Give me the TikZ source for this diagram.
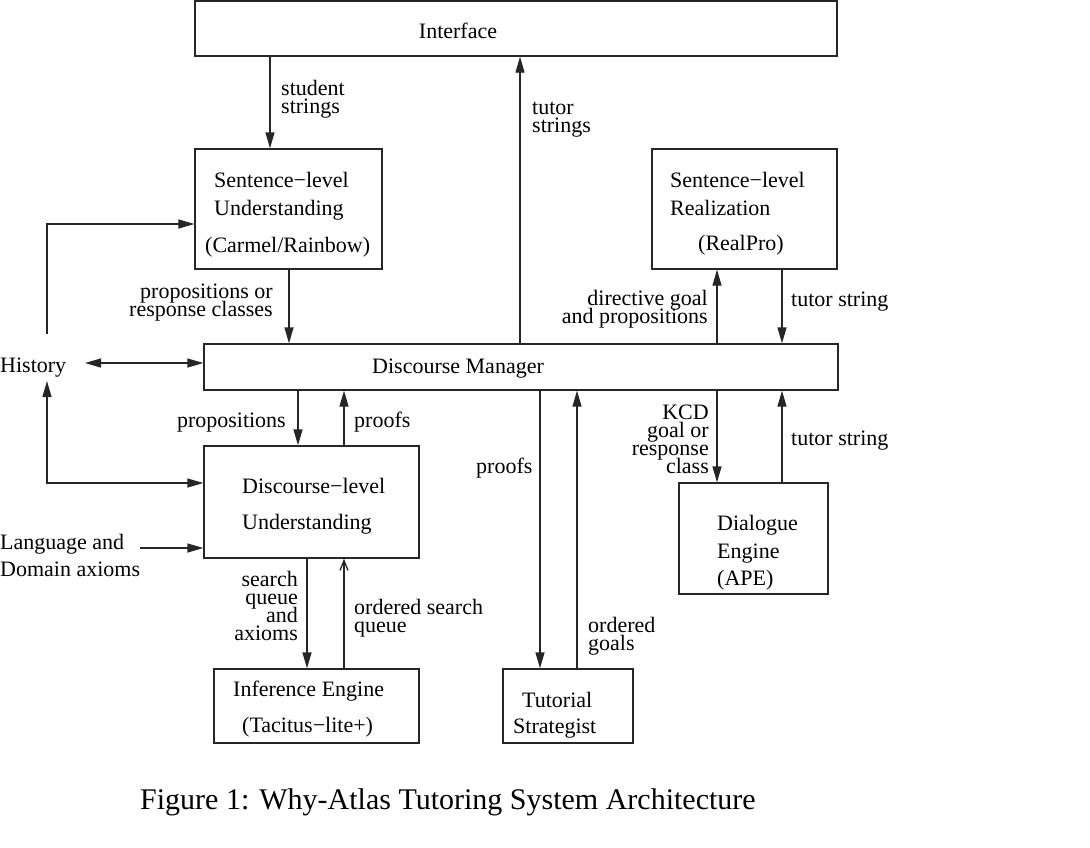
\documentclass[tikz,border=0pt]{standalone}
\usepackage{fontspec}
\setmainfont{Liberation Serif}
\usetikzlibrary{arrows.meta}
\newcommand\figfont{\fontsize{22}{18}\selectfont\lineskiplimit=-100pt\relax}
\newcommand\capfont{\fontsize{30}{30}\selectfont}
\begin{document}
\begin{tikzpicture}[x=1pt,y=-1pt,
  box/.style={draw=black!85, line width=1.3pt, inner sep=0pt},
  tl/.style={inner sep=0pt, anchor=base west, font=\figfont, align=left},
  tr/.style={inner sep=0pt, anchor=base east, font=\figfont, align=right},
  arr/.style={draw=black!85, line width=1.3pt, -{Triangle[length=16pt,width=9pt]}},
  darr/.style={draw=black!85, line width=1.3pt, {Triangle[length=16pt,width=9pt]}-{Triangle[length=16pt,width=9pt]}},
  oarr/.style={draw=black!85, line width=1.3pt, -{Straight Barb[length=10pt,width=8pt]}}]
\useasboundingbox (0,0) rectangle (1090,847);

% boxes
\node[box, minimum width=642pt, minimum height=55pt] (iface) at (516,28.5) {};
\node[box, minimum width=187pt, minimum height=120pt] (slu) at (288.5,209) {};
\node[box, minimum width=185pt, minimum height=120pt] (slr) at (744.5,209) {};
\node[box, minimum width=634pt, minimum height=46pt] (dm) at (521,367) {};
\node[box, minimum width=215pt, minimum height=112pt] (dlu) at (311.5,502) {};
\node[box, minimum width=205pt, minimum height=74pt] (ie) at (316.5,706) {};
\node[box, minimum width=130pt, minimum height=74pt] (ts) at (568,706) {};
\node[box, minimum width=149pt, minimum height=111pt] (de) at (753.5,538.5) {};

% box texts
\node[inner sep=0pt, anchor=base, font=\figfont] (ifaceT) at (458,38) {Interface};
\node[tl] (sluT1) at (214,187) {Sentence−level};
\node[tl] (sluT2) at (214,215) {Understanding};
\node[tl] (sluT3) at (205,252) {(Carmel/Rainbow)};
\node[tl] (slrT1) at (670,187) {Sentence−level};
\node[tl] (slrT2) at (670,215) {Realization};
\node[tl] (slrT3) at (698,250) {(RealPro)};
\node[tl] (dmT) at (372,373) {Discourse Manager};
\node[tl] (dluT1) at (242,493) {Discourse−level};
\node[tl] (dluT2) at (242,529) {Understanding};
\node[tl] (ieT1) at (233,696) {Inference Engine};
\node[tl] (ieT2) at (242,732) {(Tacitus−lite+)};
\node[tl] (tsT1) at (522,707) {Tutorial};
\node[tl] (tsT2) at (513,733) {Strategist};
\node[tl] (deT1) at (717,530) {Dialogue};
\node[tl] (deT2) at (717,558) {Engine};
\node[tl] (deT3) at (717,585) {(APE)};

% free texts
\node[tl] (hist) at (0,372) {History};
\node[tl] (lang1) at (0,549) {Language and};
\node[tl] (lang2) at (0,576) {Domain axioms};

% labels (anchored at the baseline of the last line)
\node[tl] (l1) at (281,113) {student\\strings};
\node[tl] (l2) at (532,132) {tutor\\strings};
\node[tr] (l3) at (273,316) {propositions or\\response classes\hspace{7pt}};
\node[tr] (l4) at (708,323) {directive goal\\and propositions\hspace{2pt}};
\node[tl] (l5) at (791,306) {tutor string};
\node[tr] (l6) at (286,427) {propositions};
\node[tl] (l7) at (354,427) {proofs};
\node[tr] (l8) at (709,473) {KCD\\goal or\hspace{2pt}\\response\hspace{5pt}\\class\hspace{5pt}};
\node[tl] (l9) at (791,445) {tutor string};
\node[tl] (l10) at (476,473) {proofs};
\node[tr] (l11) at (298,640) {search\hspace{2pt}\\queue\hspace{3pt}\\and\\axioms\hspace{1pt}};
\node[tl] (l12) at (354,632) {ordered search\\queue};
\node[tl] (l13) at (588,650) {ordered\\goals};

% caption
\node[inner sep=0pt, anchor=base west, font=\capfont] (cap) at (140,809) {Figure 1: Why-Atlas Tutoring System Architecture};

% column / row helpers
\path (270,0) coordinate (cA) (520,0) coordinate (cB) (289,0) coordinate (cC)
      (298,0) coordinate (cD) (344,0) coordinate (cE) (307,0) coordinate (cF)
      (540,0) coordinate (cG) (577,0) coordinate (cH) (717,0) coordinate (cI)
      (782,0) coordinate (cJ)
      (0,224) coordinate (rA) (0,363) coordinate (rB) (0,483) coordinate (rC)
      (0,548) coordinate (rD);
\coordinate (hA) at (47,334);
\coordinate (hB) at (85,363);
\coordinate (hC) at (47,381);
\coordinate (lg) at (140,548);

% connectors
\draw[arr] (iface.south -| cA) -- (slu.north -| cA);
\draw[arr] (dm.north -| cB) -- (iface.south -| cB);
\draw[arr] (slu.south -| cC) -- (dm.north -| cC);
\draw[arr] (dm.south -| cD) -- (dlu.north -| cD);
\draw[arr] (dlu.north -| cE) -- (dm.south -| cE);
\draw[arr] (dlu.south -| cF) -- (ie.north -| cF);
\draw[oarr] (ie.north -| cE) -- (dlu.south -| cE);
\draw[arr] (dm.south -| cG) -- (ts.north -| cG);
\draw[arr] (ts.north -| cH) -- (dm.south -| cH);
\draw[arr] (dm.north -| cI) -- (slr.south -| cI);
\draw[arr] (slr.south -| cJ) -- (dm.north -| cJ);
\draw[arr] (dm.south -| cI) -- (de.north -| cI);
\draw[arr] (de.north -| cJ) -- (dm.south -| cJ);
\draw[arr] (hA) |- (slu.west |- rA);
\draw[darr] (hB) -- (dm.west |- rB);
\draw[darr] (hC) |- (dlu.west |- rC);
\draw[arr] (lg) -- (dlu.west |- rD);
\end{tikzpicture}
\end{document}
